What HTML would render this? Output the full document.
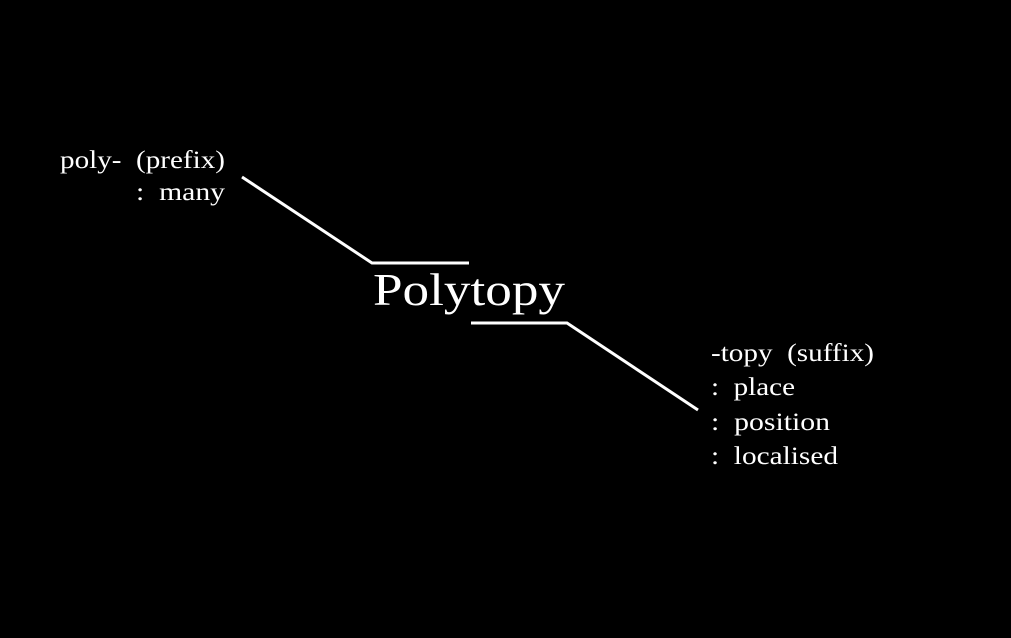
<!DOCTYPE html>
<html><head><meta charset="utf-8"><style>
html,body{margin:0;padding:0;background:#000;width:1011px;height:638px;overflow:hidden}
svg{display:block}
text{fill:#fff;font-family:"Liberation Serif","DejaVu Serif",serif}
</style></head><body>
<svg width="1011" height="638" viewBox="0 0 1011 638">
<rect width="1011" height="638" fill="#000"/>
<polyline points="242,177 372,263 469,263" fill="none" stroke="#fff" stroke-width="3"/>
<polyline points="471,323 567,323 698,410" fill="none" stroke="#fff" stroke-width="3"/>
<text x="60" y="168" font-size="25" xml:space="preserve" textLength="165" lengthAdjust="spacingAndGlyphs">poly-  (prefix)</text>
<text x="136" y="200" font-size="25" xml:space="preserve" textLength="89" lengthAdjust="spacingAndGlyphs">:  many</text>
<text x="373" y="305" font-size="46" textLength="192" lengthAdjust="spacingAndGlyphs">Polytopy</text>
<text x="711" y="361" font-size="25" xml:space="preserve" textLength="163" lengthAdjust="spacingAndGlyphs">-topy  (suffix)</text>
<text x="711" y="395" font-size="25" xml:space="preserve" textLength="84" lengthAdjust="spacingAndGlyphs">:  place</text>
<text x="711" y="430" font-size="25" xml:space="preserve" textLength="119" lengthAdjust="spacingAndGlyphs">:  position</text>
<text x="711" y="464" font-size="25" xml:space="preserve" textLength="127" lengthAdjust="spacingAndGlyphs">:  localised</text>
</svg>
</body></html>
